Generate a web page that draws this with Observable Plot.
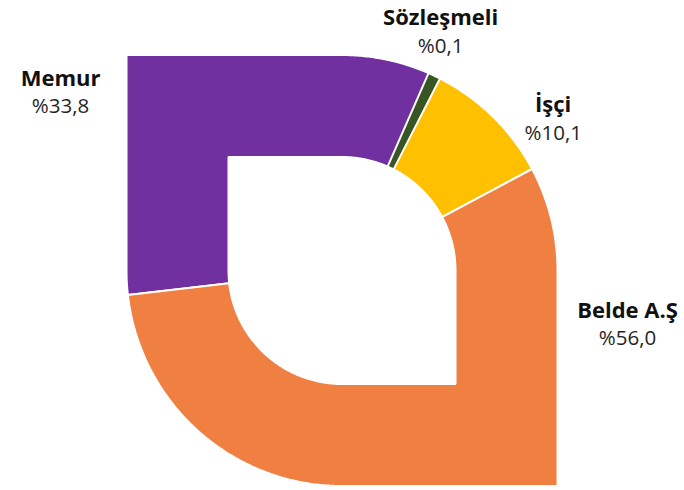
<!DOCTYPE html>
<html><head><meta charset="utf-8">
<script src="https://cdn.jsdelivr.net/npm/d3@7"></script>
<script src="https://cdn.jsdelivr.net/npm/@observablehq/plot@0.6"></script>
<style>html,body{margin:0;padding:0;background:#fff} svg{display:block}</style>
</head><body><div id="chart"></div>
<script>
// ---- data ----
const categories = ["Memur", "Sözleşmeli", "İşçi", "Belde A.Ş"];
const values = [33.8, 0.1, 10.1, 56.0];
const valueLabels = ["%33,8", "%0,1", "%10,1", "%56,0"];
const colors = ["#7030A0", "#375623", "#FFC000", "#F07F42"];

// ---- layout ----
const W = 684, H = 490;
const cx = 341.5, cy = 270, R = 215.5, rIn = 113.5;   // px
const startAngle = 263.5;         // degrees, clockwise from 12 o'clock
const minVisible = 1.5;           // deg of padding so a tiny slice stays visible
// label anchors, in units of the outer radius relative to the centre
const labelOffsets = [[-1.306, 0.891], [0.458, 1.170], [0.980, 0.766], [1.325, -0.186]];

const rad = d => d * Math.PI / 180;
function radiusAt(theta, base) {
  const s = Math.sin(rad(theta)), c = Math.cos(rad(theta));
  const round = (s > 0 && c > 0) || (s < 0 && c < 0);
  return round ? base : base / Math.max(Math.abs(s), Math.abs(c));
}

const total = d3.sum(values);
let acc = startAngle;
const slices = categories.map((name, i) => {
  const a0 = acc, a1 = acc + values[i] / total * 360;
  acc = a1;
  return {name, i, a0, a1, small: values[i] / total * 360 < 1};
});

function slicePoints(s, pad) {
  const a0 = s.a0 - pad, a1 = s.a1 + pad;
  const angles = [a0, a1];
  for (let a = Math.ceil(a0 * 2) / 2; a < a1; a += 0.5) angles.push(a);
  for (let k = -1; k < 3; k++) for (const c of [135, 315]) {
    const a = c + 360 * k;
    if (a > a0 && a < a1) angles.push(a);
  }
  angles.sort((p, q) => p - q);
  const pts = [];
  const ri = rIn / R;
  for (const a of angles) {
    const rr = radiusAt(a, 1);
    pts.push({name: s.name, x: rr * Math.sin(rad(a)), y: rr * Math.cos(rad(a))});
  }
  for (const a of angles.slice().reverse()) {
    const rr = radiusAt(a, ri);
    pts.push({name: s.name, x: rr * Math.sin(rad(a)), y: rr * Math.cos(rad(a))});
  }
  return pts;
}

// draw tiny slices last, slightly widened so they remain visible
const bigRows = slices.filter(s => !s.small).flatMap(s => slicePoints(s, 0));
const smallRows = slices.filter(s => s.small).flatMap(s => slicePoints(s, minVisible));

const labels = categories.map((name, i) => ({
  name, value: valueLabels[i], x: labelOffsets[i][0], y: labelOffsets[i][1]
}));

const chart = Plot.plot({
  width: W, height: H,
  margin: 0,
  x: {domain: [(0 - cx) / R, (W - cx) / R], range: [0, W], axis: null},
  y: {domain: [(cy - H) / R, cy / R], range: [H, 0], axis: null},
  color: {domain: categories, range: colors},
  style: {fontFamily: "Open Sans", background: "#fff"},
  marks: [
    Plot.line(bigRows, {x: "x", y: "y", z: "name", fill: "name", stroke: "white",
      strokeWidth: 2, strokeLinejoin: "miter", curve: "linear-closed"}),
    Plot.line(smallRows, {x: "x", y: "y", z: "name", fill: "name", stroke: "white",
      strokeWidth: 2, strokeLinejoin: "miter", curve: "linear-closed"}),
    Plot.text(labels, {x: "x", y: "y", text: "name", fontSize: 22, fontWeight: "bold", fill: "#111"}),
    Plot.text(labels, {x: "x", y: "y", text: "value", fontSize: 20.5, dy: 28, fill: "#262626"})
  ]
});
document.getElementById("chart").appendChild(chart);
</script>
</body></html>
